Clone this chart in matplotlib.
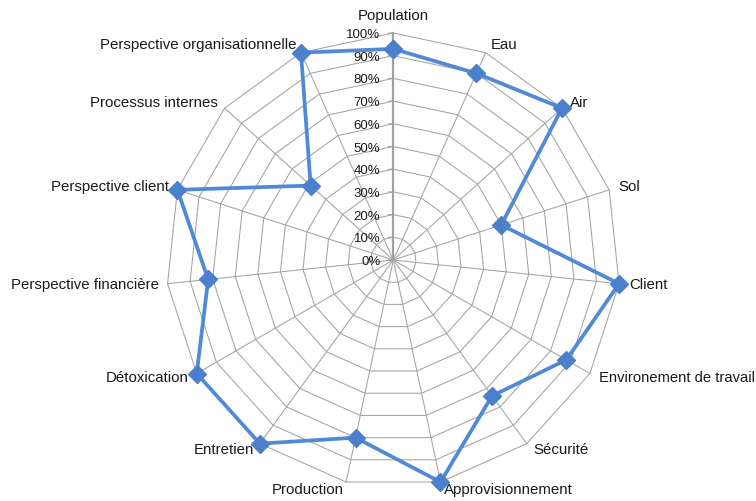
import numpy as np
import matplotlib
matplotlib.use("Agg")
import matplotlib.pyplot as plt

categories = ["Population", "Eau", "Air", "Sol", "Client", "Environement de travail",
              "Sécurité", "Approvisionnement", "Production", "Entretien", "Détoxication",
              "Perspective financière", "Perspective client", "Processus internes",
              "Perspective organisationnelle"]
values = [0.93, 0.90, 1.00, 0.50, 1.00, 0.88, 0.74, 1.00, 0.80, 1.00, 1.00,
          0.82, 1.00, 0.49, 1.00]
ring_levels = [0.0, 0.1, 0.2, 0.3, 0.4, 0.5, 0.6, 0.7, 0.8, 0.9, 1.0]
ring_labels = ["0%", "10%", "20%", "30%", "40%", "50%", "60%", "70%", "80%", "90%", "100%"]

plt.rcParams['font.family'] = ['Liberation Sans', 'DejaVu Sans']

W, H = 756, 501
fig = plt.figure(figsize=(W / 100, H / 100), dpi=100)
cx, cy, R = 393.3, 260.0, 227.0
ax = fig.add_axes([(cx - R) / W, (H - cy - R) / H, 2 * R / W, 2 * R / H], projection='polar')
ax.set_theta_zero_location('N')
ax.set_theta_direction(-1)
ax.set_ylim(0, 1.0)
ax.axis('off')

n = len(categories)
theta = np.arange(n) * 2 * np.pi / n
theta_closed = np.append(theta, theta[0])

grid_col = '#a3a3a3'
# rings
for lv in ring_levels[1:]:
    ax.plot(theta_closed, [lv] * (n + 1), color=grid_col, lw=0.75, zorder=1, clip_on=False)
# spokes
for i, t in enumerate(theta):
    if i == 0:
        continue
    ax.plot([t, t], [0, 1.0], color=grid_col, lw=0.75, zorder=1, clip_on=False)
# value axis
ax.plot([0, 0], [0, 1.0], color='#a0a0a0', lw=1.6, zorder=2, clip_on=False)

# ticks and tick labels
for lv, lab in zip(ring_levels, ring_labels):
    ax.annotate('', xy=(0, lv), xytext=(-5, 0), textcoords='offset pixels',
                arrowprops=dict(arrowstyle='-', color='#a0a0a0', lw=0.75,
                                shrinkA=0, shrinkB=0))
    ax.annotate(lab, xy=(0, lv), xytext=(-13, -2), textcoords='offset pixels',
                ha='right', va='center', fontsize=9.5, color='#1a1a1a')

# category labels
for i, (t, lab) in enumerate(zip(theta, categories)):
    s, c = np.sin(t), np.cos(t)
    if i == 0:
        ax.annotate(lab, xy=(t, 1.0), xytext=(0, 10), textcoords='offset pixels',
                    ha='center', va='bottom', fontsize=10.8, color='#1a1a1a')
        continue
    ha = 'left' if s > 0 else 'right'
    dx = 8 * s + (2 if s > 0 else -1)
    dy = 8 * c
    ax.annotate(lab, xy=(t, 1.0), xytext=(dx, dy), textcoords='offset pixels',
                ha=ha, va='center', fontsize=10.6 if len(lab) > 20 and s > 0 else 10.8,
                color='#1a1a1a')

vals_closed = values + [values[0]]
ax.plot(theta_closed, vals_closed, color='#5089d6', lw=2.7, zorder=5, clip_on=False,
        marker='D', markersize=8.8, markerfacecolor='#4a80cc', markeredgecolor='#4a80cc')

fig.savefig('out.png', dpi=100)
